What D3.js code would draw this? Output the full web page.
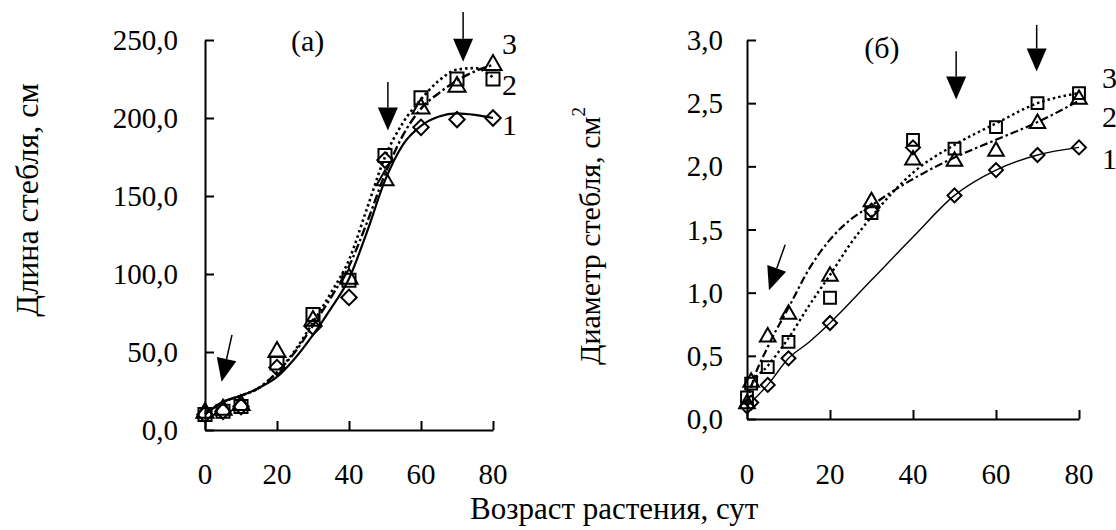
<!DOCTYPE html>
<html><head><meta charset="utf-8">
<script src="https://cdn.jsdelivr.net/npm/d3@7"></script>
<style>
html,body{margin:0;padding:0;background:#fff;}
</style></head>
<body>
<svg id="c" width="1116" height="530" font-family="'Liberation Serif', 'Times New Roman', Times, 'DejaVu Serif', serif"></svg>
<script>
// ---------- data ----------
const ageL = [0, 5, 10, 20, 30, 40, 50, 60, 70, 80];
const lenS1 = [10, 12, 15, 40, 66, 85, 173, 194, 199, 200];
const lenS2 = [11, 13, 16, 50, 70, 97, 160, 206, 220, 234];
const lenS3 = [10, 12, 15, 43, 74, 96, 176, 213, 225, 225];

const trendAgeL = [0, 5, 10, 15, 20, 25, 30, 35, 40, 45, 50, 55, 60, 65, 70, 75, 80];
const lenT1 = [10, 18, 22, 27, 34, 46, 61, 78, 97, 127, 160, 183, 195, 201, 203, 202, 200];
const lenT2 = [11, 18, 22, 27, 37, 50, 67, 85, 105, 133, 164, 189, 206, 216, 224, 230, 234];
const lenT3 = [10, 18, 22, 27, 37, 51, 69, 88, 109, 142, 175, 197, 212, 224, 231, 232, 226];

const ageR = [0, 1, 5, 10, 20, 30, 40, 50, 60, 70, 80];
const diaS1 = [0.10, 0.13, 0.27, 0.48, 0.76, 1.65, 2.15, 1.77, 1.97, 2.09, 2.15];
const diaS2 = [0.12, 0.29, 0.65, 0.83, 1.13, 1.72, 2.05, 2.04, 2.12, 2.34, 2.53];
const diaS3 = [0.17, 0.28, 0.41, 0.61, 0.96, 1.63, 2.21, 2.14, 2.31, 2.50, 2.58];

const diaT1Age = [0, 5, 10, 15, 20, 30, 40, 50, 60, 70, 80];
const diaT1 = [0.10, 0.27, 0.48, 0.61, 0.76, 1.10, 1.44, 1.77, 1.97, 2.09, 2.15];
const diaT2Age = [0, 1, 5, 10, 15, 20, 25, 30, 35, 40, 50, 60, 70, 80];
const diaT2 = [0.12, 0.25, 0.57, 0.88, 1.19, 1.42, 1.58, 1.69, 1.80, 1.90, 2.07, 2.21, 2.35, 2.52];
const diaT3Age = [0, 1, 5, 10, 15, 20, 25, 30, 35, 40, 50, 60, 70, 80];
const diaT3 = [0.17, 0.26, 0.42, 0.64, 0.90, 1.14, 1.39, 1.60, 1.79, 1.95, 2.17, 2.34, 2.50, 2.58];

const xTicks = [0, 20, 40, 60, 80];
const yTicksL = [0, 50, 100, 150, 200, 250];
const yTicksR = [0, 0.5, 1.0, 1.5, 2.0, 2.5, 3.0];
const seriesNames = ["1", "2", "3"];
// arrows: [x0, y0, x1(tip), y1(tip)] in data units
const arrowsL = [[50.8, 223, 50.8, 192], [71.7, 268, 71.7, 236], [7.5, 61, 4.6, 31]];
const arrowsR = [[50.4, 2.91, 50.4, 2.53], [69.8, 3.12, 69.8, 2.75], [9.2, 1.38, 5.3, 1.02]];

// ---------- drawing ----------
const svg = d3.select("#c");
const fmt = v => d3.format(".1f")(v).replace(".", ",");

function panel(opt) {
  const x = d3.scaleLinear().domain([0, 80]).range(opt.xr);
  const y = d3.scaleLinear().domain(opt.yd).range(opt.yr);
  const g = svg.append("g");
  const ax = g.append("g").attr("transform", `translate(0,${opt.yr[0]})`)
    .call(d3.axisBottom(x).tickValues(xTicks).tickSize(-9).tickSizeOuter(0).tickFormat(""));
  const ay = g.append("g").attr("transform", `translate(${opt.xr[0]},0)`)
    .call(d3.axisLeft(y).tickValues(opt.yt).tickSize(-9).tickSizeOuter(0).tickFormat(""));
  [ax, ay].forEach(a => { a.selectAll("path,line").attr("stroke", "#000").attr("stroke-width", 2); });
  g.selectAll(".xl").data(xTicks).join("text").attr("x", d => x(d)).attr("y", 484)
    .attr("text-anchor", "middle").attr("font-size", 29).text(d => d);
  g.selectAll(".yl").data(opt.yt).join("text").attr("x", opt.xr[0] - opt.labGap).attr("y", d => y(d))
    .attr("dy", "0.35em").attr("text-anchor", "end").attr("font-size", 29).text(d => fmt(d));

  const line = d3.line().x(d => x(d[0])).y(d => y(d[1])).curve(d3.curveMonotoneX);
  opt.trends.forEach(t => {
    g.append("path").attr("d", line(d3.zip(t.xs, t.ys))).attr("fill", "none")
      .attr("stroke", "#000").attr("stroke-width", t.w).attr("stroke-dasharray", t.dash);
  });
  const sym = {
    diamond: d3.symbol().type(d3.symbolSquare).size(opt.ms * 0.7),
    triangle: d3.symbol().type(d3.symbolTriangle).size(opt.ms * 0.75),
    square: d3.symbol().type(d3.symbolSquare).size(opt.ms)
  };
  opt.series.forEach(s => {
    g.selectAll(null).data(d3.zip(s.xs, s.ys)).join("path")
      .attr("d", sym[s.shape]())
      .attr("transform", d => `translate(${x(d[0])},${y(d[1])})` + (s.shape === "diamond" ? " rotate(45)" : ""))
      .attr("fill", "none").attr("stroke", "#000").attr("stroke-width", 2);
  });
  opt.arrows.forEach(a => {
    const x0 = x(a[0]), y0 = y(a[1]), x1 = x(a[2]), y1 = y(a[3]);
    const dx = x1 - x0, dy = y1 - y0, L = Math.hypot(dx, dy), ux = dx / L, uy = dy / L;
    const hl = 23, hw = 10;
    const bx = x1 - ux * hl, by = y1 - uy * hl;
    g.append("line").attr("x1", x0).attr("y1", y0).attr("x2", bx).attr("y2", by)
      .attr("stroke", "#000").attr("stroke-width", 1.5);
    g.append("path").attr("d", `M${x1},${y1}L${bx - uy * hw},${by + ux * hw}L${bx + uy * hw},${by - ux * hw}Z`)
      .attr("fill", "#000");
  });
  opt.labels.forEach((l, i) => {
    g.append("text").attr("x", x(80) + opt.labDx).attr("y", y(l)).attr("font-size", 30).text(seriesNames[i]);
  });
  g.append("text").attr("x", x(opt.tag[1])).attr("y", y(opt.tag[2])).attr("text-anchor", "middle")
    .attr("font-size", 30).text(opt.tag[0]);
  return {x, y};
}

panel({
  xr: [205, 493], yr: [430, 40], yd: [0, 250], yt: yTicksL, labGap: 27, ms: 170,
  trends: [
    {xs: trendAgeL, ys: lenT1, w: 2.2, dash: null},
    {xs: trendAgeL, ys: lenT2, w: 2.4, dash: "9,3,2.5,3"},
    {xs: trendAgeL, ys: lenT3, w: 2.6, dash: "2.5,3"}
  ],
  series: [
    {xs: ageL, ys: lenS1, shape: "diamond"},
    {xs: ageL, ys: lenS2, shape: "triangle"},
    {xs: ageL, ys: lenS3, shape: "square"}
  ],
  arrows: arrowsL,
  labels: [189, 215, 241],
  labDx: 9,
  tag: ["(а)", 28.5, 243]
});

panel({
  xr: [747, 1079], yr: [419, 40], yd: [0, 3], yt: yTicksR, labGap: 24, ms: 140,
  trends: [
    {xs: diaT1Age, ys: diaT1, w: 1.4, dash: null},
    {xs: diaT2Age, ys: diaT2, w: 2.2, dash: "8,3,2.5,3"},
    {xs: diaT3Age, ys: diaT3, w: 2.4, dash: "2.5,3"}
  ],
  series: [
    {xs: ageR, ys: diaS1, shape: "diamond"},
    {xs: ageR, ys: diaS2, shape: "triangle"},
    {xs: ageR, ys: diaS3, shape: "square"}
  ],
  arrows: arrowsR,
  labels: [1.98, 2.31, 2.62],
  labDx: 23,
  tag: ["(б)", 32.5, 2.86]
});

svg.append("text").attr("transform", "translate(38,200) rotate(-90)").attr("text-anchor", "middle")
  .attr("font-size", 32).text("Длина стебля, см");
const t2 = svg.append("text").attr("transform", "translate(600,236) rotate(-90)").attr("text-anchor", "middle")
  .attr("font-size", 30);
t2.append("tspan").text("Диаметр стебля, см");
t2.append("tspan").attr("font-size", 19).attr("dy", "-0.8em").text("2");
svg.append("text").attr("x", 470).attr("y", 519).attr("font-size", 31).text("Возраст растения, сут");
</script>
</body></html>
